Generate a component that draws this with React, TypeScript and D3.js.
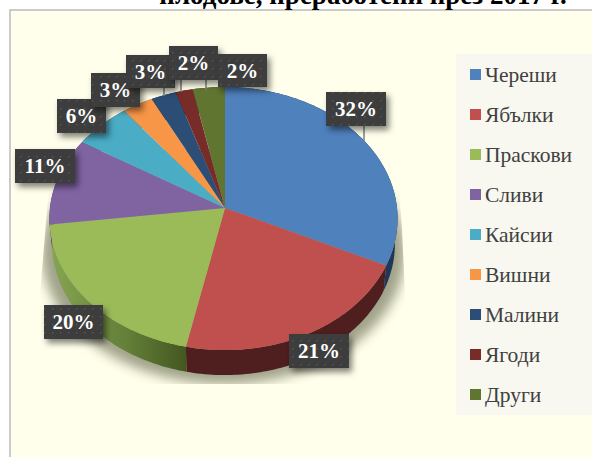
import React from "react";
import * as d3 from "d3";

const categories = ["Череши", "Ябълки", "Праскови", "Сливи", "Кайсии", "Вишни", "Малини", "Ягоди", "Други"];
const shares = [32, 21.3, 19.7, 10.8, 5.7, 3.1, 2.5, 1.7, 3.2];
const percentLabels = ["32%", "21%", "20%", "11%", "6%", "3%", "3%", "2%", "2%"];
const titleText = "плодове, преработени през 2017 г.";

const sliceColors = ["#4f81bd", "#c0504d", "#9bbb59", "#8064a2", "#4bacc6", "#f79646", "#2c4d75", "#772c2a", "#5f7530"];
const wallColors = ["#1f3857", "#4f1e1e", "url(#greenWall)", "#3f3151", "#215968", "#7f4a1c", "#16263a", "#3a1514", "#2f3a18"];

// label box: x, y, w, h; leader: x, y1, y2 (layout only)
const labelLayout = [
  { x: 326, y: 92, w: 60, h: 34, lead: [364, 126, 142] },
  { x: 289, y: 334, w: 60, h: 34, lead: null },
  { x: 44, y: 305, w: 59, h: 34, lead: null },
  { x: 15, y: 149, w: 60, h: 34, lead: null },
  { x: 57, y: 99, w: 49, h: 34, lead: null },
  { x: 91, y: 73, w: 49, h: 34, lead: null },
  { x: 126, y: 55, w: 49, h: 33, lead: [164, 88, 96] },
  { x: 169, y: 46, w: 49, h: 34, lead: [181, 80, 92] },
  { x: 218, y: 54, w: 49, h: 33, lead: [206, 80, 90] },
];

const CX = 225, CY = 208, R_RIGHT = 172, R_LEFT = 175, RY = 130.7, K = 0.08, DEPTH = 25, SHRINK = 0.985;

function project(angle: number): [number, number] {
  const u = Math.sin(angle), v = -Math.cos(angle);
  const w = 1 - K * v;
  return [CX + ((u > 0 ? R_RIGHT : R_LEFT) * u) / w, CY + (RY * v) / w];
}
const lower = ([x, y]: [number, number]): [number, number] => [CX + (x - CX) * SHRINK, y + DEPTH];

function arcPoints(a0: number, a1: number) {
  const n = Math.max(2, Math.ceil((a1 - a0) / 0.02));
  return d3.range(n + 1).map((i) => project(a0 + ((a1 - a0) * i) / n));
}

const line = d3.line<[number, number]>().x((d) => d[0]).y((d) => d[1]);
const pieGen = d3.pie<number>().sort(null).value((d) => d);
const slices = pieGen(shares);

const legendY = d3.scalePoint<string>().domain(categories).range([74.5, 394.5]);

export default function App() {
  const silhouette = arcPoints(0, Math.PI * 2).map(lower);
  return (
    <svg width={592} height={457} style={{ position: "absolute", left: 0, top: 0 }} fontFamily="'Liberation Serif', serif">
      <defs>
        <linearGradient id="greenWall" gradientUnits="userSpaceOnUse" x1={55} x2={187} y1={0} y2={0}>
          <stop offset="0" stopColor="#84a350" />
          <stop offset="0.55" stopColor="#637f38" />
          <stop offset="1" stopColor="#435620" />
        </linearGradient>
        <pattern id="dots" width={8} height={8} patternUnits="userSpaceOnUse" x={1} y={1}>
          <rect width={8} height={8} fill="#3d3d3d" />
          <rect x={3} y={3} width={1.5} height={1.5} fill="#555555" />
        </pattern>
        <filter id="softShadow" x="-20%" y="-20%" width="140%" height="140%">
          <feGaussianBlur stdDeviation={6} />
        </filter>
        <filter id="boxShadow" x="-30%" y="-30%" width="170%" height="170%">
          <feDropShadow dx={3} dy={4} stdDeviation={3} floodColor="#000" floodOpacity={0.5} />
        </filter>
        <clipPath id="shadowClip">
          <polygon points="52,150 40,295 40,384 409,384 402,228 396,150" />
        </clipPath>
      </defs>

      <rect width={592} height={457} fill="#fff" />
      <rect x={10} y={10} width={590} height={460} fill="#ffffeb" stroke="#bfbfbf" strokeWidth={1.6} />

      <text x={363} y={4} textAnchor="middle" fontSize={27} fontWeight="bold" fill="#000">{titleText}</text>

      <g clipPath="url(#shadowClip)">
        <path
          d={line(silhouette.map(([x, y]) => [CX + (x - CX) * 1.06, y + 9] as [number, number]))! + "Z"}
          fill="#55573a"
          opacity={0.55}
          filter="url(#softShadow)"
        />
      </g>

      {slices.map((s, i) => {
        const top = arcPoints(s.startAngle, s.endAngle);
        const outline = [...top, ...top.slice().reverse().map(lower)];
        return <path key={i} d={line(outline)! + "Z"} fill={wallColors[i]} />;
      })}
      {slices.map((s, i) => {
        const pts: [number, number][] = [[CX, CY], ...arcPoints(s.startAngle, s.endAngle)];
        return <path key={i} d={line(pts)! + "Z"} fill={sliceColors[i]} />;
      })}

      <rect x={456} y={54} width={136} height={361} fill="#f8f8f0" />
      {categories.map((c, i) => (
        <g key={c}>
          <rect x={470} y={legendY(c)! - 5.5} width={11} height={11} fill={sliceColors[i]} />
          <text x={485} y={legendY(c)! + 7.5} fontSize={21.5} fill="#404040">{c}</text>
        </g>
      ))}

      {labelLayout.map((b, i) =>
        b.lead ? <line key={i} x1={b.lead[0]} x2={b.lead[0]} y1={b.lead[1]} y2={b.lead[2]} stroke="#7f7f7f" strokeWidth={1.5} /> : null
      )}
      {labelLayout.map((b, i) => (
        <g key={i}>
          <rect x={b.x} y={b.y} width={b.w} height={b.h} fill="url(#dots)" filter="url(#boxShadow)" />
          <text x={b.x + b.w / 2} y={b.y + b.h / 2 + 7} textAnchor="middle" fontSize={21} fontWeight="bold" fill="#fff">
            {percentLabels[i]}
          </text>
        </g>
      ))}
    </svg>
  );
}
